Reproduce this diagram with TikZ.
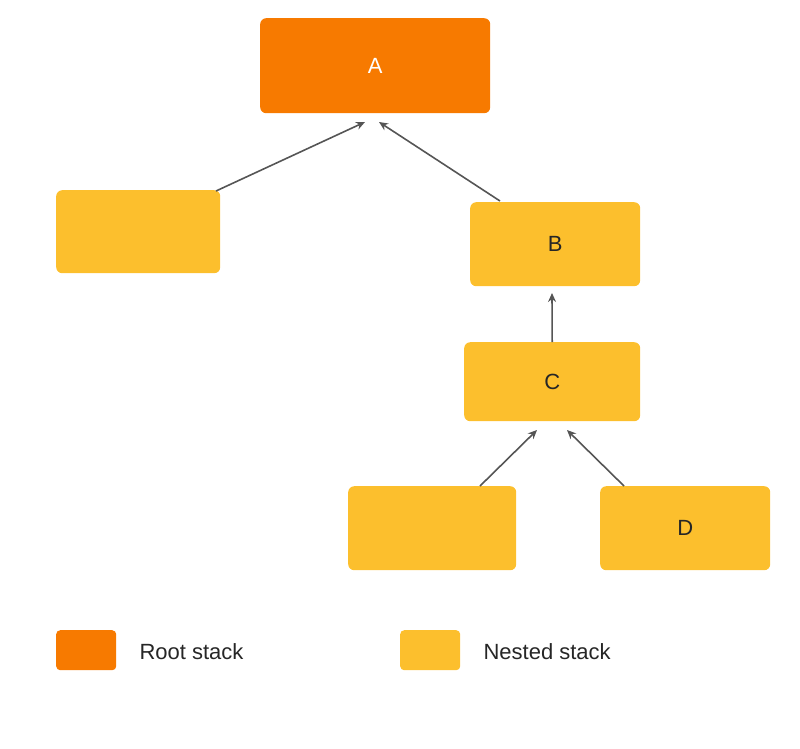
\documentclass[tikz,border=0pt]{standalone}
\usepackage{fontspec}
\setmainfont{Liberation Sans}
\usetikzlibrary{arrows.meta}
\definecolor{rootc}{HTML}{F77A00}
\definecolor{nestc}{HTML}{FCBF2D}
\definecolor{edgec}{HTML}{555555}
\begin{document}
\begin{tikzpicture}
    [
    x=1pt, y=-1pt,
    box/.style={rounded corners=6pt, inner sep=0pt, anchor=north west, font=\fontsize{22}{26}\selectfont},
    root/.style={box, fill=rootc, text=white},
    nested/.style={box, fill=nestc, text=black!85},
    link/.style={draw=edgec, line width=1.6pt, -{Stealth[length=9pt,width=8pt]}},
    ]
    \useasboundingbox (0,0) rectangle (800,748);
    \node (A) at (260,18) [root, minimum width=230pt, minimum height=95pt] {A};
    \node (left) at (56,190) [nested, minimum width=164pt, minimum height=83pt] {};
    \node (B) at (470,202) [nested, minimum width=170pt, minimum height=84pt] {B};
    \node (C) at (464,342) [nested, minimum width=176pt, minimum height=79pt] {C};
    \node (bl) at (348,486) [nested, minimum width=168pt, minimum height=84pt] {};
    \node (D) at (600,486) [nested, minimum width=170pt, minimum height=84pt] {D};

    \coordinate (a1) at (365,122);
    \coordinate (a2) at (379,122);
    \coordinate (b1) at (552,293);
    \coordinate (c1) at (537,430);
    \coordinate (c2) at (567,430);
    \draw [link] (216,191) to (a1);
    \draw [link] (500,201) to (a2);
    \draw [link] (C.north) to (b1);
    \draw [link] (480,486) to (c1);
    \draw [link] (624,486) to (c2);

    \node (k1) at (56,630) [root, minimum width=60pt, minimum height=40pt, rounded corners=4pt] {};
    \node [anchor=west, font=\fontsize{22}{26}\selectfont, text=black!85] at (136,652) {Root stack};
    \node (k2) at (400,630) [nested, minimum width=60pt, minimum height=40pt, rounded corners=4pt] {};
    \node [anchor=west, font=\fontsize{22}{26}\selectfont, text=black!85] at (480,652) {Nested stack};
\end{tikzpicture}
\end{document}
